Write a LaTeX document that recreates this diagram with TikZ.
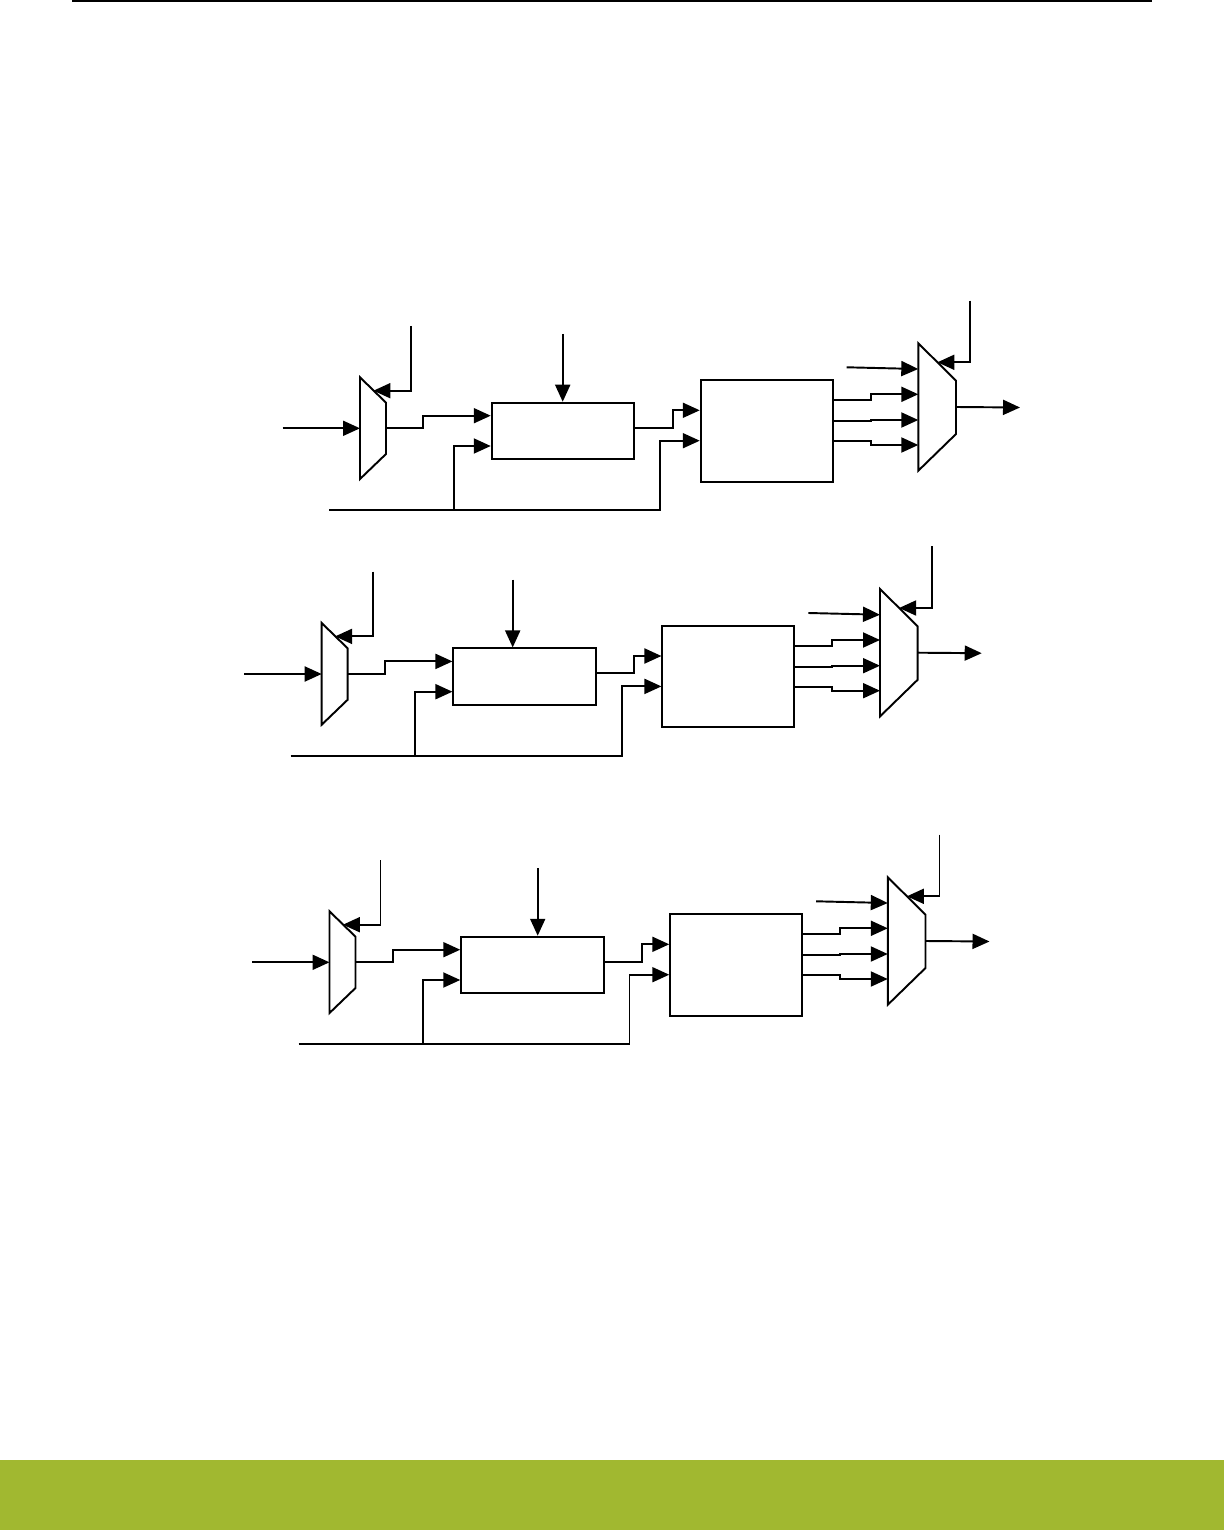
\documentclass[tikz,border=0pt]{standalone}
\usepackage{xcolor}
\usepackage{tikz}
\usetikzlibrary{arrows.meta}
\definecolor{leafgreen}{RGB}{161,184,48}
\tikzset{
  wire/.style={line width=1.1pt},
  sig/.style={wire,-{Triangle[length=0.34cm,width=0.3cm]}},
  blockbox/.style={draw,line width=1.1pt,inner sep=0pt},
  muxbody/.style={draw,line width=1.1pt,fill=white,line join=miter},
}

\begin{document}
\begin{tikzpicture}[x=0.02cm,y=-0.02cm]
        \useasboundingbox (0,0) rectangle (1224,1530);
        \draw[line width=0.032cm] (72.3,0.8) -- (1152,0.8);
        \fill[leafgreen] (0,1460) rectangle (1224,1530);
        % three copies of the same datapath
        \foreach \i/\dx/\dy/\tx in {1/0/0/562.7,2/-38.3/245.7/551,3/-30.5/534/568.2}{
        \begin{scope}[shift={(\dx,\dy)}]
          % input mux
          \draw[muxbody] (360,377.3) -- (386,402.7) -- (386,454) -- (360,479) -- cycle;
          \coordinate (muxAin\i) at (360,428.3);
          \coordinate (muxAout\i) at (386,428.3);
          \coordinate (muxAsel\i) at (373.4,390.7);
          % output mux
          \draw[muxbody] (918.3,343.3) -- (956,380.7) -- (956,434) -- (918.3,470.7) -- cycle;
          \coordinate (muxBl\i) at (918.3,407);
          \coordinate (muxBout\i) at (956,407);
          \coordinate (muxBsel\i) at (937.4,362.3);
          % blocks
          \node[blockbox,minimum width=2.852cm,minimum height=1.126cm] (blkA\i) at (563,430.85) {};
          \node[blockbox,minimum width=2.64cm,minimum height=2.034cm] (blkB\i) at (766.7,430.85) {};
          % free ends
          \coordinate (inA\i) at (282.7,428.3);
          \coordinate (selA\i) at (411,326);
          \coordinate (topA\i) at (\tx,334);
          \coordinate (bus\i) at (329,510);
          \coordinate (inB\i) at (846.7,367.3);
          \coordinate (selB\i) at (970,300.7);
          \coordinate (outB\i) at (1020,407.5);
          % wires
          \draw[sig] (inA\i) -- (muxAin\i);
          \draw[sig] (selA\i) |- (muxAsel\i);
          \draw[sig] (muxAout\i) -| (423.3,415.7) -- (blkA\i.west |- 0,415.7);
          \draw[sig] (topA\i) -- (topA\i |- blkA\i.north);
          \draw[sig] (bus\i) -- (660,510) |- (blkB\i.west |- 0,440.7);
          \draw[sig] (453.7,510) |- (blkA\i.west |- 0,446);
          \draw[sig] (blkA\i.east |- 0,427.7) -| (672.7,410.3) -- (blkB\i.west |- 0,410.3);
          \foreach \ya/\yb in {400/394.3,421/420,441/445}
            \draw[sig] (blkB\i.east |- 0,\ya) -| (870.7,\yb) -- (muxBl\i |- 0,\yb);
          \draw[sig] (inB\i) -- (muxBl\i |- 0,369);
          \draw[sig] (selB\i) |- (muxBsel\i);
          \draw[sig] (muxBout\i) -- (outB\i);
        \end{scope}}
\end{tikzpicture}
\end{document}
